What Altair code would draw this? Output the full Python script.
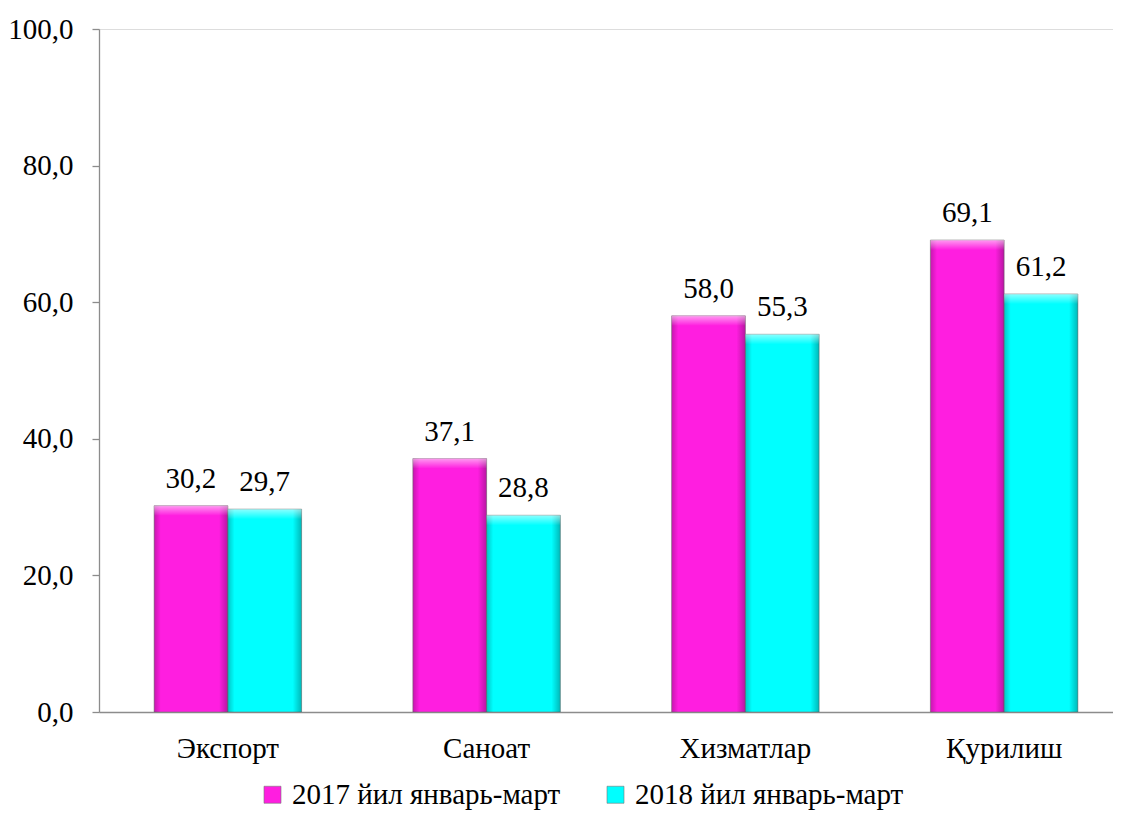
import altair as alt
import pandas as pd

categories = ["Экспорт", "Саноат", "Хизматлар", "Қурилиш"]
series = ["2017 йил январь-март", "2018 йил январь-март"]
v2017 = [30.2, 37.1, 58.0, 69.1]
v2018 = [29.7, 28.8, 55.3, 61.2]
colors = ["#FF1EE0", "#00FFFF"]
y_ticks = [0, 20, 40, 60, 80, 100]

rows = []
for c, a, b in zip(categories, v2017, v2018):
    rows.append({"cat": c, "series": series[0], "value": a})
    rows.append({"cat": c, "series": series[1], "value": b})
df = pd.DataFrame(rows)

FONT = "'Liberation Serif', 'Times New Roman', serif"
FS = 29

x_enc = alt.X(
    "cat:N",
    sort=categories,
    scale=alt.Scale(range=[0, 1034], paddingInner=0.43, paddingOuter=0.213),
    axis=alt.Axis(
        title=None, labelAngle=0, ticks=False, labelPadding=22,
        labelFont=FONT, labelFontSize=FS, labelColor="black", labelLimit=0,
        domainColor="#8C8C8C", domainWidth=1.3,
    ),
)
xo_enc = alt.XOffset("series:N", sort=series,
                     scale=alt.Scale(paddingInner=0, paddingOuter=0))
y_enc = alt.Y(
    "value:Q",
    scale=alt.Scale(domain=[0, 100], nice=False),
    axis=alt.Axis(
        title=None, values=y_ticks, grid=False, tickSize=7,
        tickColor="#8C8C8C", domainColor="#8C8C8C", domainWidth=1.3,
        tickWidth=1.3,
        labelPadding=19, labelFont=FONT, labelFontSize=FS, labelColor="black",
        labelExpr="replace(format(datum.value, '.1f'), '.', ',')",
    ),
)

base = alt.Chart(df)

bars = base.mark_bar(stroke="#7A7A7A", strokeWidth=0.6).encode(
    x=x_enc, xOffset=xo_enc, y=y_enc,
    color=alt.Color(
        "series:N", sort=series,
        scale=alt.Scale(domain=series, range=colors),
        legend=alt.Legend(
            title=None, orient="none", legendX=159, legendY=751,
            direction="horizontal", symbolType="square", symbolSize=289,
            symbolStrokeWidth=0.6, symbolStrokeColor="#777777",
            labelFont=FONT, labelFontSize=FS, labelColor="black",
            labelLimit=0, labelOffset=5, columnPadding=40,
        ),
    ),
)

side_shade = base.mark_bar(
    fill=alt.LinearGradient(
        gradient="linear", x1=0, x2=1, y1=0, y2=0,
        stops=[
            alt.GradientStop(color="rgba(0,0,0,0.22)", offset=0),
            alt.GradientStop(color="rgba(0,0,0,0.0)", offset=0.09),
            alt.GradientStop(color="rgba(0,0,0,0.0)", offset=0.88),
            alt.GradientStop(color="rgba(0,0,0,0.28)", offset=1),
        ],
    ),
).encode(x=x_enc, xOffset=xo_enc, y=y_enc)

top_bevel = base.mark_bar(
    y2Offset=10,
    fill=alt.LinearGradient(
        gradient="linear", x1=0, x2=0, y1=0, y2=1,
        stops=[
            alt.GradientStop(color="rgba(255,255,255,0.55)", offset=0),
            alt.GradientStop(color="rgba(255,255,255,0.0)", offset=1),
        ],
    ),
).encode(x=x_enc, xOffset=xo_enc, y=y_enc, y2="value:Q")

labels = base.transform_calculate(
    lbl="replace(format(datum.value, '.1f'), '.', ',')"
).mark_text(
    font=FONT, fontSize=FS, color="black", baseline="alphabetic", dy=-18
).encode(x=x_enc, xOffset=xo_enc, y=y_enc, text="lbl:N")

chart = (
    alt.layer(bars, side_shade, top_bevel, labels)
    .properties(
        width=1014, height=683,
        autosize=alt.AutoSizeParams(type="none"),
        padding={"left": 91, "top": 21, "right": 0, "bottom": 101},
    )
    .configure_view(stroke="transparent", strokeWidth=0)
    .configure(background="white")
)

chart.save("out.html", embed_options={"renderer": "svg", "actions": False})
